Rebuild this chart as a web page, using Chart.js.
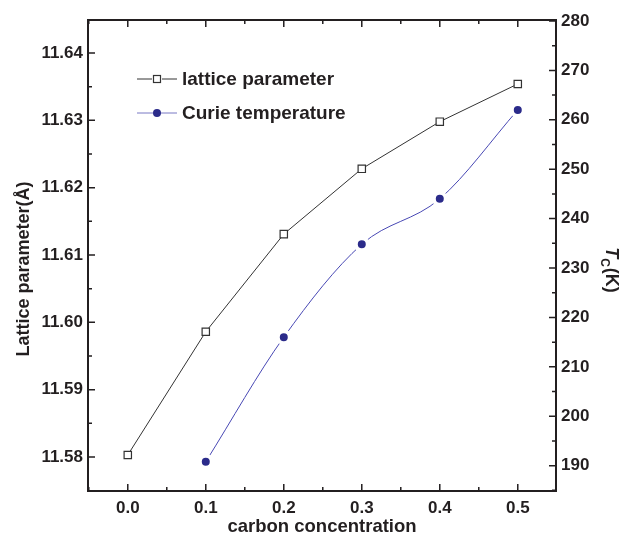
<!DOCTYPE html>
<html>
<head>
<meta charset="utf-8">
<script src="https://cdn.jsdelivr.net/npm/chart.js@4.4.1/dist/chart.umd.min.js"></script>
<style>
  html, body { margin: 0; padding: 0; background: #fff; }
</style>
</head>
<body>
<canvas id="c" width="623" height="535"></canvas>
<script>
// data
const carbon = [0.0, 0.1, 0.2, 0.3, 0.4, 0.5];
const latticeParam = [11.5803, 11.5986, 11.6131, 11.6228, 11.6298, 11.6354];
const curieCarbon = [0.1, 0.2, 0.3, 0.4, 0.5];
const curieTemp = [190.8, 216.0, 234.8, 244.0, 262.0];

const xTicks = [0.0, 0.1, 0.2, 0.3, 0.4, 0.5];
const latticeTicks = [11.58, 11.59, 11.60, 11.61, 11.62, 11.63, 11.64];
const tcTicks = [190, 200, 210, 220, 230, 240, 250, 260, 270, 280];
const seriesNames = ['lattice parameter', 'Curie temperature'];

const FONT = "'Liberation Sans', Arial, Helvetica, sans-serif";
const INK = '#231f20';

function tickFont(size) {
  return { family: FONT, weight: 'bold', size: size };
}

// frame, inward ticks (major + minor), legend and y titles
const framePlugin = {
  id: 'frame',
  afterDatasetsDraw(chart) {
    const ctx = chart.ctx;
    const a = chart.chartArea;
    const sx = chart.scales.x, yl = chart.scales.yL, yr = chart.scales.yR;
    ctx.save();
    ctx.strokeStyle = INK;
    ctx.lineWidth = 1.5;

    function minorOf(ticks) {
      const out = [];
      for (let i = 0; i < ticks.length; i++) {
        if (i > 0) out.push((ticks[i - 1] + ticks[i]) / 2);
      }
      const step = ticks[1] - ticks[0];
      out.push(ticks[0] - step / 2, ticks[ticks.length - 1] + step / 2);
      return out;
    }

    ctx.beginPath();
    // x ticks, bottom and top
    [[xTicks, 7], [minorOf(xTicks), 4]].forEach(function (set) {
      set[0].forEach(function (v) {
        const px = sx.getPixelForValue(v);
        if (px < a.left || px > a.right) return;
        ctx.moveTo(px, a.bottom); ctx.lineTo(px, a.bottom - set[1]);
        ctx.moveTo(px, a.top); ctx.lineTo(px, a.top + set[1]);
      });
    });
    // left axis
    [[latticeTicks, 7], [minorOf(latticeTicks), 4]].forEach(function (set) {
      set[0].forEach(function (v) {
        const py = yl.getPixelForValue(v);
        if (py < a.top || py > a.bottom) return;
        ctx.moveTo(a.left, py); ctx.lineTo(a.left + set[1], py);
      });
    });
    // right axis
    [[tcTicks, 7], [minorOf(tcTicks), 4]].forEach(function (set) {
      set[0].forEach(function (v) {
        const py = yr.getPixelForValue(v);
        if (py < a.top - 1 || py > a.bottom) return;
        ctx.moveTo(a.right, py); ctx.lineTo(a.right - set[1], py);
      });
    });
    ctx.stroke();

    ctx.lineWidth = 2;
    ctx.strokeRect(a.left, a.top, a.right - a.left, a.bottom - a.top);

    // legend
    const ds = chart.data.datasets;
    ctx.font = 'bold 19px ' + FONT;
    ctx.textBaseline = 'middle';
    ctx.textAlign = 'left';
    ds.forEach(function (d, i) {
      const y = 79 + i * 34;
      ctx.lineWidth = 1;
      ctx.strokeStyle = d.legendLine;
      ctx.beginPath();
      ctx.moveTo(137, y); ctx.lineTo(177, y);
      ctx.stroke();
      if (d.pointStyle === 'rect') {
        ctx.fillStyle = '#fff';
        ctx.fillRect(152, y - 5, 10, 10);
        ctx.strokeStyle = d.pointBorderColor;
        ctx.lineWidth = 1.2;
        ctx.strokeRect(153.5, y - 3.5, 7, 7);
      } else {
        ctx.fillStyle = d.pointBackgroundColor;
        ctx.beginPath();
        ctx.arc(157, y, 4, 0, Math.PI * 2);
        ctx.fill();
      }
      ctx.fillStyle = INK;
      ctx.fillText(d.label, 182, y + 1);
    });

    // left title
    ctx.save();
    ctx.translate(29, 269);
    ctx.rotate(-Math.PI / 2);
    ctx.textAlign = 'center';
    ctx.textBaseline = 'alphabetic';
    ctx.font = 'bold 18px ' + FONT;
    ctx.fillStyle = INK;
    ctx.fillText('Lattice parameter(Å)', 0, 0);
    ctx.restore();

    // right title: T_C(K)
    ctx.save();
    ctx.translate(606, 270);
    ctx.rotate(Math.PI / 2);
    ctx.textBaseline = 'alphabetic';
    ctx.fillStyle = INK;
    const fT = 'italic bold 18px ' + FONT, fC = 'bold 12px ' + FONT, fK = 'bold 18px ' + FONT;
    ctx.font = fT; const wT = ctx.measureText('T').width;
    ctx.font = fC; const wC = ctx.measureText('C').width;
    ctx.font = fK; const wK = ctx.measureText('(K)').width;
    let x0 = -(wT + wC + wK + 1) / 2;
    ctx.font = fT; ctx.fillText('T', x0, 0); x0 += wT;
    ctx.font = fC; ctx.fillText('C', x0, 5); x0 += wC + 1;
    ctx.font = fK; ctx.fillText('(K)', x0, 0);
    ctx.restore();

    ctx.restore();
  }
};

new Chart(document.getElementById('c'), {
  type: 'line',
  data: {
    datasets: [
      {
        label: seriesNames[0],
        data: carbon.map(function (x, i) { return { x: x, y: latticeParam[i] }; }),
        yAxisID: 'yL',
        borderColor: '#333333',
        borderWidth: 1,
        tension: 0,
        pointStyle: 'rect',
        pointRadius: 5.2,
        pointBackgroundColor: '#ffffff',
        pointBorderColor: '#333333',
        pointBorderWidth: 1.2,
        legendLine: '#333333'
      },
      {
        label: seriesNames[1],
        data: curieCarbon.map(function (x, i) { return { x: x, y: curieTemp[i] }; }),
        yAxisID: 'yR',
        borderColor: '#4848b4',
        borderWidth: 1,
        cubicInterpolationMode: 'monotone',
        pointStyle: 'circle',
        pointRadius: 6,
        pointBackgroundColor: '#2b2b8a',
        pointBorderColor: '#ffffff',
        pointBorderWidth: 4,
        legendLine: '#7878c4'
      }
    ]
  },
  options: {
    responsive: false,
    animation: false,
    events: [],
    layout: { padding: { top: 20, left: 0, right: 0, bottom: 0 } },
    plugins: { legend: { display: false }, tooltip: { enabled: false } },
    scales: {
      x: {
        type: 'linear',
        position: 'bottom',
        min: -0.051,
        max: 0.549,
        afterBuildTicks: function (s) { s.ticks = xTicks.map(function (v) { return { value: v }; }); },
        afterFit: function (s) { s.height = 44; },
        grid: { display: false, drawTicks: false },
        border: { display: false },
        ticks: {
          callback: function (v) { return Number(v).toFixed(1); },
          font: tickFont(17), color: INK, padding: 7, maxRotation: 0, autoSkip: false
        },
        title: {
          display: true, text: 'carbon concentration', color: INK,
          font: { family: FONT, weight: 'bold', size: 18.5, lineHeight: 0.9 },
          padding: { top: 0, bottom: 0 }
        }
      },
      yL: {
        type: 'linear',
        position: 'left',
        min: 11.57495,
        max: 11.6449,
        afterBuildTicks: function (s) { s.ticks = latticeTicks.map(function (v) { return { value: v }; }); },
        afterFit: function (s) { s.width = 88; },
        grid: { display: false, drawTicks: false },
        border: { display: false },
        ticks: {
          callback: function (v) { return Number(v).toFixed(2); },
          font: tickFont(17), color: INK, padding: 5, autoSkip: false
        }
      },
      yR: {
        type: 'linear',
        position: 'right',
        min: 184.87,
        max: 280.2,
        afterBuildTicks: function (s) { s.ticks = tcTicks.map(function (v) { return { value: v }; }); },
        afterFit: function (s) { s.width = 67; },
        grid: { display: false, drawTicks: false },
        border: { display: false },
        ticks: {
          callback: function (v) { return String(v); },
          font: tickFont(17), color: INK, padding: 5, autoSkip: false
        }
      }
    }
  },
  plugins: [framePlugin]
});
</script>
</body>
</html>
